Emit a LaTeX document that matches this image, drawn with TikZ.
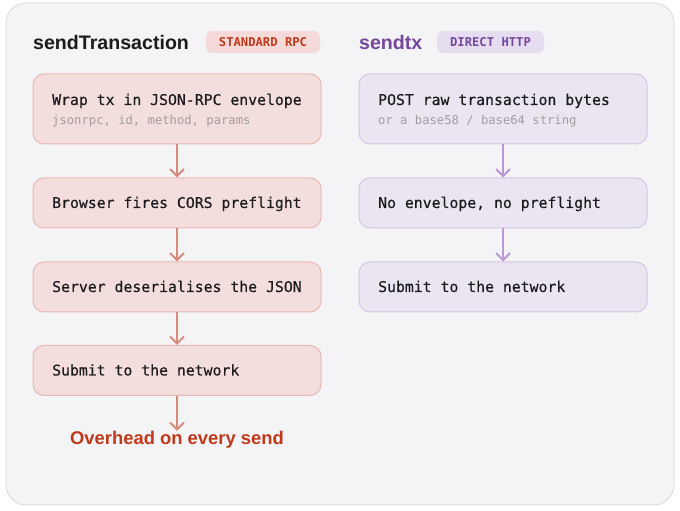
\documentclass[tikz,border=0pt]{standalone}
\usepackage{fontspec}
\setmainfont{Liberation Sans}
\newfontfamily\monof{DejaVu Sans Mono}
\newfontfamily\monofm[FakeBold=0.35]{DejaVu Sans Mono}
\usetikzlibrary{arrows.meta}
\definecolor{panelfill}{HTML}{F4F4F6}
\definecolor{panelline}{HTML}{DEDEE3}
\definecolor{redfill}{HTML}{F3DEDD}
\definecolor{redline}{HTML}{E8B7AF}
\definecolor{redarrow}{HTML}{D8897C}
\definecolor{redbadge}{HTML}{F6DADA}
\definecolor{redtext}{HTML}{C0391B}
\definecolor{purfill}{HTML}{EAE5F0}
\definecolor{purline}{HTML}{D5C6E5}
\definecolor{purarrow}{HTML}{B899D4}
\definecolor{purbadge}{HTML}{E7DDF1}
\definecolor{purtext}{HTML}{74479C}
\definecolor{darktext}{HTML}{1B1B1D}
\definecolor{subtext}{HTML}{A29D9D}
\tikzset{
  x=1pt,y=1pt,
  redbox/.style={draw=redline, fill=redfill, line width=1pt, rounded corners=11pt, minimum width=288pt, inner sep=0pt},
  purbox/.style={draw=purline, fill=purfill, line width=1pt, rounded corners=11pt, minimum width=288pt, inner sep=0pt},
  maintext/.style={font=\monofm\fontsize{14.8}{17}\selectfont, text=darktext, anchor=base west, inner sep=0pt},
  smalltext/.style={font=\monof\fontsize{12.2}{14}\selectfont, text=subtext, anchor=base west, inner sep=0pt},
  redflow/.style={draw=redarrow, line width=2pt, -{Straight Barb[length=7pt,width=14pt,line width=2pt]}},
  purflow/.style={draw=purarrow, line width=2pt, -{Straight Barb[length=7pt,width=14pt,line width=2pt]}},
  badge/.style={rounded corners=6pt, inner sep=0pt, minimum height=22pt, font=\monof\bfseries\fontsize{12.2}{14}\selectfont},
  heading/.style={font=\bfseries\fontsize{19.6}{22}\selectfont, anchor=base west, inner sep=0pt}
}
\begin{document}
\begin{tikzpicture}
\useasboundingbox (0,0) rectangle (680,511);
\fill[white] (0,0) rectangle (680,511);
\draw[panelline, fill=panelfill, line width=1pt, rounded corners=20pt] (6,6) rectangle (674,508);

% headings
\node[heading, text=darktext] (lt) at (33,461) {sendTransaction};
\node[badge, fill=redbadge, text=redtext, minimum width=114pt] (lb) at (263,469) {STANDARD RPC};
\node[heading, text=purtext] (rt) at (359,461) {sendtx};
\node[badge, fill=purbadge, text=purtext, minimum width=107pt] (rb) at (490.5,469) {DIRECT HTTP};

% left boxes
\node[redbox, minimum height=70pt] (l1) at (177,402) {};
\node[redbox, minimum height=50pt] (l2) at (177,308) {};
\node[redbox, minimum height=50pt] (l3) at (177,224) {};
\node[redbox, minimum height=50pt] (l4) at (177,140.5) {};
\node[maintext] (l1t) at (52,406) {Wrap tx in JSON-RPC envelope};
\node[smalltext] (l1s) at (52,386) {jsonrpc, id, method, params};
\node[maintext] (l2t) at (52,303) {Browser fires CORS preflight};
\node[maintext] (l3t) at (52,219) {Server deserialises the JSON};
\node[maintext] (l4t) at (52,135.5) {Submit to the network};
\node[font=\bfseries\fontsize{18.4}{21}\selectfont, text=redtext] (over) at (177,71) {Overhead on every send};
\coordinate (overtop) at (177,80);

\draw[redflow] (l1.south) -- (l2.north);
\draw[redflow] (l2.south) -- (l3.north);
\draw[redflow] (l3.south) -- (l4.north);
\draw[redflow] (l4.south) -- (overtop);

% right boxes
\node[purbox, minimum height=70pt] (r1) at (503,402) {};
\node[purbox, minimum height=50pt] (r2) at (503,308) {};
\node[purbox, minimum height=50pt] (r3) at (503,224) {};
\node[maintext] (r1t) at (378,406) {POST raw transaction bytes};
\node[smalltext] (r1s) at (378,386) {or a base58 / base64 string};
\node[maintext] (r2t) at (378,303) {No envelope, no preflight};
\node[maintext] (r3t) at (378,219) {Submit to the network};

\draw[purflow] (r1.south) -- (r2.north);
\draw[purflow] (r2.south) -- (r3.north);
\end{tikzpicture}
\end{document}
